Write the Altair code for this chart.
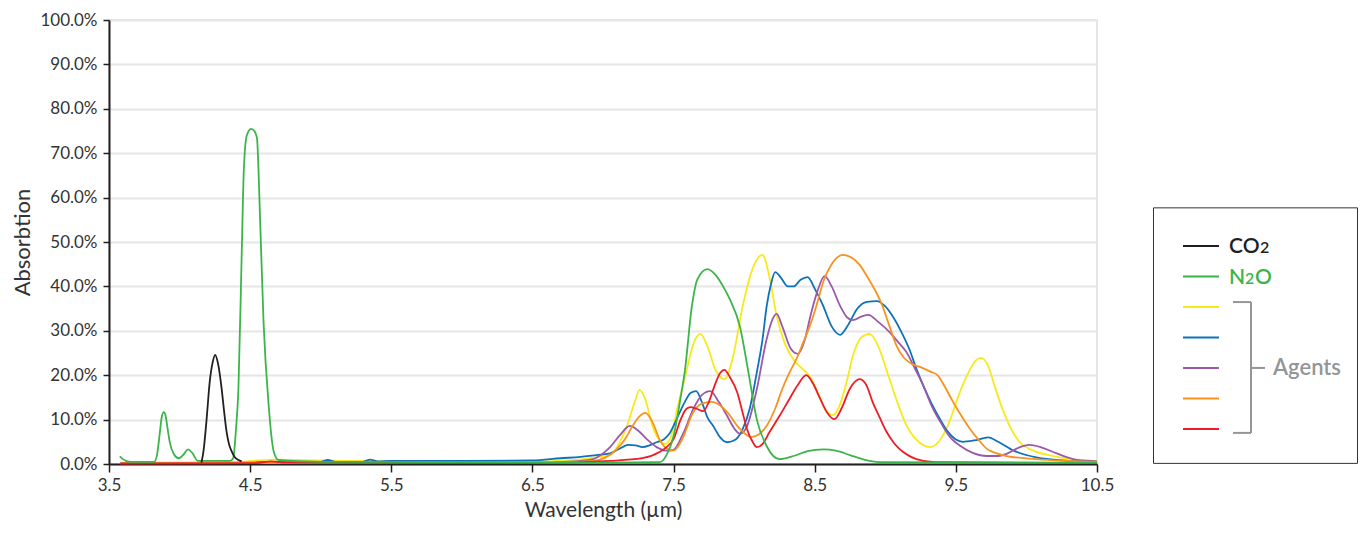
import altair as alt
import pandas as pd

# ---------------- data (wavelength in µm, absorption in %) ----------------
co2_wl = [4.155, 4.17, 4.19, 4.214, 4.235, 4.252, 4.27, 4.298, 4.315, 4.333, 4.35, 4.37, 4.39, 4.417, 4.44]
co2_abs = [0.3, 3.0, 9.5, 18.6, 23.0, 24.6, 23.0, 17.0, 12.0, 7.3, 4.5, 2.8, 1.6, 0.9, 0.6]

n2o_wl = [3.576, 3.62, 3.66, 3.82, 3.84, 3.86, 3.875, 3.888, 3.90, 3.915, 3.93, 3.96, 3.993,
          4.03, 4.06, 4.09, 4.13,
          4.357, 4.38, 4.40, 4.417, 4.44, 4.455, 4.476, 4.507, 4.53, 4.548, 4.571, 4.595, 4.631,
          4.667, 4.70, 5.0, 6.0, 7.0, 7.4, 7.45, 7.50, 7.55, 7.58, 7.63, 7.67, 7.74, 7.80, 7.86,
          7.90, 7.97, 8.03, 8.09, 8.16, 8.25, 8.35, 8.45, 8.56, 8.65, 8.75, 8.85, 8.98, 10.5]
n2o_abs = [1.7, 0.7, 0.5, 0.5, 2.0, 7.0, 10.8, 11.7, 11.0, 8.0, 5.0, 2.2, 1.3,
           2.2, 3.3, 2.5, 0.7,
           0.7, 1.3, 8.0, 17.0, 47.0, 66.0, 74.0, 75.5, 75.0, 73.5, 54.7, 32.0, 13.3,
           2.8, 0.9, 0.5, 0.4, 0.3, 0.4, 2.0, 6.3, 15.0, 21.0, 35.6, 41.7, 43.9, 42.5, 39.5,
           37.0, 31.0, 20.7, 10.0, 4.0, 1.1, 1.8, 2.9, 3.3, 3.0, 2.0, 1.0, 0.4, 0.3]

yellow_wl = [3.58, 4.4, 4.55, 4.7, 5.0, 5.5, 6.5, 6.8, 6.95, 7.05, 7.12, 7.17, 7.22, 7.26, 7.30,
             7.35, 7.40, 7.44, 7.48, 7.53, 7.59, 7.64, 7.69, 7.74, 7.80, 7.86, 7.92, 7.99, 8.06,
             8.13, 8.18, 8.23, 8.29, 8.35, 8.41, 8.47, 8.53, 8.58, 8.63, 8.68, 8.73, 8.77, 8.83,
             8.89, 8.95, 9.03, 9.09, 9.14, 9.22, 9.32, 9.40, 9.46, 9.51, 9.58, 9.64, 9.68, 9.73,
             9.78, 9.83, 9.89, 9.95, 10.05, 10.19, 10.35, 10.5]
yellow_abs = [0.3, 0.4, 0.8, 1.0, 0.8, 0.6, 0.5, 0.9, 1.5, 2.0, 5.0, 8.6, 13.5, 16.7, 14.5,
              8.6, 5.3, 4.5, 6.0, 13.0, 20.7, 27.0, 29.3, 26.5, 21.0, 19.1, 24.0, 35.6, 44.0,
              47.1, 42.0, 33.4, 27.0, 23.5, 21.5, 19.5, 15.5, 12.0, 11.0, 13.5, 19.0, 24.3, 28.5,
              29.3, 26.5, 19.1, 13.5, 9.4, 5.5, 3.8, 6.0, 10.0, 14.6, 20.0, 23.3, 23.9, 22.0,
              17.0, 12.4, 8.0, 5.0, 3.0, 1.8, 1.0, 0.7]

blue_wl = [3.58, 4.5, 4.6, 5.0, 5.05, 5.1, 5.3, 5.35, 5.4, 5.5, 6.0, 6.5, 6.7, 6.84, 6.98, 7.05,
           7.12, 7.18, 7.23, 7.28, 7.33, 7.38, 7.43, 7.47, 7.52, 7.58, 7.62, 7.66, 7.70, 7.74,
           7.78, 7.83, 7.88, 7.94, 7.99, 8.04, 8.09, 8.13, 8.16, 8.19, 8.22, 8.26, 8.31, 8.35,
           8.40, 8.45, 8.50, 8.56, 8.62, 8.68, 8.74, 8.80, 8.87, 8.94, 9.00, 9.05, 9.11, 9.17,
           9.22, 9.27, 9.33, 9.39, 9.44, 9.50, 9.55, 9.63, 9.73, 9.80, 9.91, 10.07, 10.31, 10.5]
blue_abs = [0.2, 0.3, 0.5, 0.5, 0.9, 0.5, 0.5, 1.0, 0.6, 0.7, 0.7, 0.8, 1.3, 1.6, 2.1, 2.4,
            3.5, 4.3, 4.2, 3.8, 4.2, 4.9, 5.5, 6.8, 10.0, 14.0, 16.0, 16.4, 14.0, 10.5,
            8.6, 6.0, 4.9, 5.5, 7.9, 12.5, 20.7, 28.0, 35.6, 40.5, 43.2, 42.0, 40.0, 40.0,
            41.5, 42.1, 39.5, 35.6, 31.0, 29.1, 31.5, 34.9, 36.5, 36.7, 35.5, 33.4, 30.0, 25.9,
            21.5, 17.6, 13.5, 10.0, 7.4, 5.5, 5.0, 5.3, 6.0, 5.0, 3.0, 1.5, 0.7, 0.5]

purple_wl = [3.58, 6.5, 6.8, 6.93, 7.0, 7.05, 7.12, 7.19, 7.25, 7.31, 7.38, 7.45, 7.50, 7.57,
             7.64, 7.70, 7.76, 7.82, 7.88, 7.93, 7.97, 8.02, 8.09, 8.16, 8.20, 8.23, 8.27, 8.33,
             8.38, 8.43, 8.47, 8.52, 8.57, 8.62, 8.68, 8.73, 8.77, 8.83, 8.88, 8.95, 9.03, 9.09,
             9.15, 9.21, 9.27, 9.33, 9.39, 9.46, 9.53, 9.62, 9.72, 9.80, 9.86, 9.94, 10.02,
             10.10, 10.19, 10.28, 10.36, 10.5]
purple_abs = [0.2, 0.3, 0.6, 1.1, 2.4, 3.8, 6.5, 8.6, 7.5, 5.6, 3.8, 3.0, 3.2, 7.0,
              12.4, 15.5, 16.4, 14.0, 10.8, 8.0, 6.8, 8.5, 16.9, 28.2, 32.5, 33.8, 31.0, 26.0,
              24.8, 28.0, 33.4, 39.0, 42.3, 40.0, 35.6, 33.0, 32.4, 33.2, 33.6, 32.0, 29.7, 27.5,
              25.2, 21.5, 17.6, 13.0, 9.5, 6.0, 4.1, 2.5, 1.8, 1.8, 2.3, 3.6, 4.3,
              3.8, 2.7, 1.6, 0.9, 0.6]

orange_wl = [3.58, 6.5, 6.8, 6.93, 7.02, 7.10, 7.16, 7.21, 7.26, 7.30, 7.35, 7.40, 7.45, 7.50,
             7.56, 7.64, 7.70, 7.77, 7.83, 7.88, 7.97, 8.05, 8.10, 8.16, 8.22, 8.27, 8.32, 8.37,
             8.42, 8.47, 8.52, 8.56, 8.62, 8.70, 8.76, 8.82, 8.87, 8.93, 8.98, 9.03, 9.08, 9.13,
             9.19, 9.25, 9.32, 9.37, 9.42, 9.48, 9.54, 9.60, 9.66, 9.72, 9.79, 9.86, 10.07, 10.5]
orange_abs = [0.2, 0.3, 0.5, 0.7, 1.5, 3.4, 5.8, 8.6, 10.8, 11.5, 9.5, 5.6, 3.5, 3.0,
              5.5, 11.7, 13.6, 14.0, 13.2, 11.7, 7.9, 6.1, 6.6, 8.6, 12.5, 16.9, 20.5, 23.6,
              27.5, 31.5, 36.5, 41.0, 45.0, 47.1, 46.5, 44.8, 42.3, 39.0, 35.6, 31.0, 26.6, 24.0,
              22.5, 21.8, 20.8, 20.0, 17.5, 14.0, 10.8, 7.9, 5.5, 3.4, 2.4, 1.8, 1.1, 0.5]

red_wl = [3.58, 4.55, 4.65, 4.75, 6.5, 7.05, 7.28, 7.40, 7.45, 7.50, 7.55, 7.59, 7.62, 7.66,
          7.71, 7.75, 7.79, 7.83, 7.86, 7.90, 7.95, 7.99, 8.02, 8.06, 8.09, 8.13, 8.18, 8.25,
          8.32, 8.38, 8.44, 8.49, 8.54, 8.59, 8.64, 8.69, 8.75, 8.82, 8.87, 8.91, 8.96, 9.01,
          9.06, 9.10, 9.16, 9.22, 9.35, 10.5]
red_abs = [0.1, 0.2, 0.6, 0.3, 0.2, 0.7, 1.3, 2.7, 3.8, 5.6, 10.0, 12.4, 12.8, 12.5,
           11.9, 14.0, 17.6, 20.5, 21.2, 19.5, 16.2, 11.5, 7.9, 5.0, 3.8, 4.5, 7.2, 10.8,
           14.6, 17.8, 20.0, 18.0, 14.6, 11.5, 10.1, 12.5, 17.0, 19.1, 17.5, 14.0, 10.5, 7.2,
           4.8, 3.4, 2.0, 1.1, 0.4, 0.2]

x_ticks = [3.5, 4.5, 5.5, 6.5, 7.5, 8.5, 9.5, 10.5]
y_ticks = [0, 10, 20, 30, 40, 50, 60, 70, 80, 90, 100]

# drawing order (first drawn = bottom)
series_names = ["Agent 1", "Agent 2", "Agent 3", "Agent 4", "Agent 5", "N2O", "CO2"]
series_colors = ["#f7ea1c", "#0d72bb", "#9b59ab", "#f7931e", "#ee1c25", "#3bb54a", "#231f20"]
series_wl = [yellow_wl, blue_wl, purple_wl, orange_wl, red_wl, n2o_wl, co2_wl]
series_abs = [yellow_abs, blue_abs, purple_abs, orange_abs, red_abs, n2o_abs, co2_abs]

# legend: rows (top to bottom) and their colours; text pieces (main text + subscript digit)
legend_colors = ["#231f20", "#3bb54a", "#f7ea1c", "#0d72bb", "#9b59ab", "#f7931e", "#ee1c25"]
legend_text_rows = [0, 0, 1, 1, 1]
legend_text_pieces = ["CO", "2", "N", "2", "O"]
legend_text_sub = [False, True, False, True, False]
agents_label = "Agents"

# ---------------- build tables ----------------
rows = []
for name, wl, ab in zip(series_names, series_wl, series_abs):
    for w, a in zip(wl, ab):
        rows.append({"series": name, "wl": w, "abs": a})
df = pd.DataFrame(rows)

FONT = "Lato"
TXT = "#333333"

xs = alt.Scale(domain=[3.5, 10.5], nice=False, zero=False)
ys = alt.Scale(domain=[0, 100], nice=False)

x_axis = alt.Axis(title="Wavelength (µm)", values=x_ticks, format=".1f", grid=False,
                  domainColor="#231f20", domainWidth=2, tickColor="#231f20", tickWidth=1.5,
                  tickSize=8, labelPadding=5, labelFontSize=17, labelColor=TXT, labelFont=FONT,
                  titleFont=FONT, titleFontSize=21, titleColor=TXT, titleFontWeight="normal",
                  titlePadding=6, labelFlush=False)
y_axis = alt.Axis(title="Absorbtion", values=y_ticks,
                  labelExpr="format(datum.value, '.1f') + '%'",
                  grid=True, gridColor="#e6e6e6", gridWidth=2,
                  domainColor="#231f20", domainWidth=2, tickColor="#231f20", tickWidth=1.5,
                  tickSize=6, labelPadding=6, labelFontSize=17, labelColor=TXT, labelFont=FONT,
                  titleFont=FONT, titleFontSize=22, titleColor=TXT, titleFontWeight="normal",
                  titlePadding=5, labelFlush=False)

base = alt.Chart(df).encode(
    x=alt.X("wl:Q", scale=xs, axis=x_axis),
    y=alt.Y("abs:Q", scale=ys, axis=y_axis),
)
layers = []
for name, col in zip(series_names, series_colors):
    layers.append(
        base.transform_filter(alt.datum.series == name)
        .mark_line(color=col, strokeWidth=1.8, interpolate="monotone")
    )
main = alt.layer(*layers).properties(
    width=988, height=444,
    view=alt.ViewBackground(stroke="#e6e6e6", strokeWidth=2),
)

# ---------------- custom legend panel ----------------
LW, LH = 205, 444
lxs = alt.Scale(domain=[0, LW], nice=False, zero=False)
lys = alt.Scale(domain=[-7.41, 7.15], nice=False, zero=False, reverse=True)

n = len(legend_colors)
leg_df = pd.DataFrame({
    "row": list(range(n)),
    "color": legend_colors,
    "x0": [30] * n,
    "x1": [66] * n,
})
# horizontal placement of the text pieces
piece_x = [76, 107, 76, 92, 102]
txt_df = pd.DataFrame({
    "row": legend_text_rows,
    "label": legend_text_pieces,
    "x": piece_x,
    "color": [legend_colors[r] for r in legend_text_rows],
    "sub": legend_text_sub,
})
box_df = pd.DataFrame({"x0": [0.5], "x1": [LW - 0.5], "y0": [-1.25], "y1": [7.13]})
br_df = pd.DataFrame({
    "x0": [98, 80, 80, 98],
    "x1": [98, 98, 98, 112],
    "y0": [1.84, 1.84, 6.13, 4.0],
    "y1": [6.13, 1.84, 6.13, 4.0],
})
ag_df = pd.DataFrame({"x": [120], "row": [4.0], "label": [agents_label]})

box = alt.Chart(box_df).mark_rect(fill="white", fillOpacity=0, stroke="#333333", strokeWidth=1).encode(
    x=alt.X("x0:Q", scale=lxs, axis=None), x2="x1",
    y=alt.Y("y0:Q", scale=lys, axis=None), y2="y1")
leg_lines = alt.Chart(leg_df).mark_rule(strokeWidth=2).encode(
    x=alt.X("x0:Q", scale=lxs, axis=None), x2="x1",
    y=alt.Y("row:Q", scale=lys, axis=None),
    color=alt.Color("color:N", scale=None))
leg_big = alt.Chart(txt_df).transform_filter(alt.datum.sub == False).mark_text(
    align="left", baseline="alphabetic", dy=7.5, fontSize=21, font=FONT, fontWeight=600).encode(
    x=alt.X("x:Q", scale=lxs, axis=None),
    y=alt.Y("row:Q", scale=lys, axis=None),
    text="label:N",
    color=alt.Color("color:N", scale=None))
leg_small = alt.Chart(txt_df).transform_filter(alt.datum.sub == True).mark_text(
    align="left", baseline="alphabetic", dy=7.5, fontSize=16, font=FONT, fontWeight=600).encode(
    x=alt.X("x:Q", scale=lxs, axis=None),
    y=alt.Y("row:Q", scale=lys, axis=None),
    text="label:N",
    color=alt.Color("color:N", scale=None))
bracket = alt.Chart(br_df).mark_rule(strokeWidth=2, color="#939598").encode(
    x=alt.X("x0:Q", scale=lxs, axis=None), x2="x1",
    y=alt.Y("y0:Q", scale=lys, axis=None), y2="y1")
agents = alt.Chart(ag_df).mark_text(align="left", baseline="alphabetic", dy=7.5, fontSize=22,
                                    font=FONT, fontWeight=600, color="#939598").encode(
    x=alt.X("x:Q", scale=lxs, axis=None),
    y=alt.Y("row:Q", scale=lys, axis=None),
    text="label:N")

legend = alt.layer(box, leg_lines, leg_big, leg_small, bracket, agents).properties(
    width=LW, height=LH,
    view=alt.ViewBackground(stroke="transparent"),
)

chart = alt.hconcat(main, legend, spacing=37).resolve_scale(
    x="independent", y="independent", color="independent"
).properties(
    padding={"left": 2, "top": 2, "right": 0, "bottom": 0},
    background="white",
).configure(font=FONT)

chart.save("out.html", embed_options={"renderer": "svg", "actions": False})
